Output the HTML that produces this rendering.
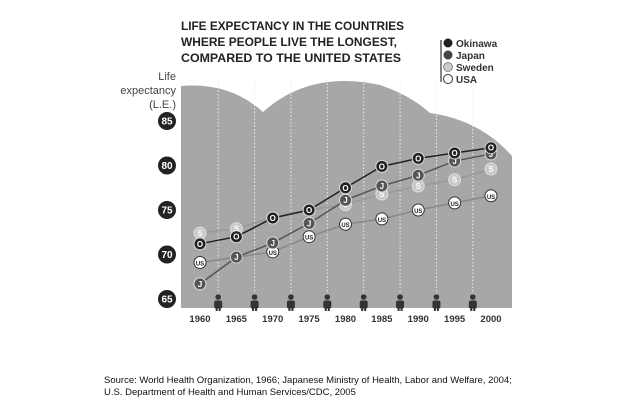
<!DOCTYPE html>
<html><head><meta charset="utf-8"><style>
body{margin:0;background:#fff;width:640px;height:410px;overflow:hidden;font-family:"Liberation Sans",sans-serif}
</style></head><body>
<svg id="chart" width="640" height="410" xmlns="http://www.w3.org/2000/svg" font-family="Liberation Sans, sans-serif">
<g font-size="12" font-weight="bold" fill="#222">
<text x="181" y="30" textLength="223" lengthAdjust="spacingAndGlyphs">LIFE EXPECTANCY IN THE COUNTRIES</text>
<text x="181" y="46" textLength="216" lengthAdjust="spacingAndGlyphs">WHERE PEOPLE LIVE THE LONGEST,</text>
<text x="181" y="62" textLength="220" lengthAdjust="spacingAndGlyphs">COMPARED TO THE UNITED STATES</text>
</g>
<g font-size="11" fill="#444" text-anchor="end">
<text x="176" y="80">Life</text><text x="176" y="94">expectancy</text><text x="176" y="108">(L.E.)</text>
</g>
<path fill="#a7a7a7" d="M181,86 Q230,82 263,112 Q310,70 380,85 Q410,95 430,113 Q480,120 512,156 L512,308 L181,308 Z"/>
<g id="grid"></g><g id="persons"></g><g id="yticks"></g><g id="xticks"></g><g id="series"></g>
<g font-size="10" font-weight="bold" fill="#333">
<line x1="441" y1="40" x2="441" y2="82" stroke="#333" stroke-width="1.2"/>
<circle cx="448" cy="43" r="4.5" fill="#222"/><text x="456" y="47">Okinawa</text>
<circle cx="448" cy="55" r="4.5" fill="#444"/><text x="456" y="59">Japan</text>
<circle cx="448" cy="67" r="4.5" fill="#ccc" stroke="#888"/><text x="456" y="71">Sweden</text>
<circle cx="448" cy="79" r="4.5" fill="#fff" stroke="#333"/><text x="456" y="83">USA</text>
</g>
<g font-size="9.5" fill="#111">
<text x="104" y="383">Source: World Health Organization, 1966; Japanese Ministry of Health, Labor and Welfare, 2004;</text>
<text x="104" y="395">U.S. Department of Health and Human Services/CDC, 2005</text>
</g>
</svg>
<script>
const years=[1960,1965,1970,1975,1980,1985,1990,1995,2000];
const okinawa=[71.2,72.0,74.1,75.0,77.5,79.9,80.8,81.4,82.0];
const japan=[66.7,69.7,71.3,73.5,76.1,77.7,78.9,80.5,81.3];
const sweden=[72.4,72.9,74.1,75.0,75.6,76.8,77.7,78.4,79.6];
const usa=[69.1,69.7,70.3,72.0,73.4,74.0,75.0,75.8,76.6];
const yTicks=[65,70,75,80,85];
const NS='http://www.w3.org/2000/svg';
const x=y=>200+(y-1960)*(291/40);
const yS=v=>299-(v-65)*8.9;
function mk(t,a,p){const e=document.createElementNS(NS,t);for(const k in a)e.setAttribute(k,a[k]);p.appendChild(e);return e;}
const grid=document.getElementById('grid'),persons=document.getElementById('persons');
for(let i=0;i<years.length-1;i++){
 const gx=(x(years[i])+x(years[i+1]))/2;
 const l=mk('line',{x1:gx,y1:80,x2:gx,y2:298,stroke:'#eee','stroke-width':1,'stroke-dasharray':'1.5,2'},grid);
 
 
 const g=mk('g',{fill:'#333'},persons);
 
 
 mk('circle',{cx:gx,cy:297,r:2.8},g);
 mk('rect',{x:gx-4,y:300.5,width:8,height:8,rx:2},g);
 mk('rect',{x:gx-2.5,y:306,width:2,height:5},g);mk('rect',{x:gx+0.5,y:306,width:2,height:5},g);
}
const yt=document.getElementById('yticks');
yTicks.forEach(v=>{const g=mk('g',{},yt);
 
 
 mk('circle',{cx:167,cy:yS(v),r:9,fill:'#222'},g);
 const t=mk('text',{x:167,y:yS(v)+3.5,'text-anchor':'middle','font-size':10,'font-weight':'bold',fill:'#fff'},g);t.textContent=v;});
const xt=document.getElementById('xticks');
years.forEach(v=>{const t=mk('text',{x:x(v),y:322,'text-anchor':'middle','font-size':9.5,'font-weight':'bold',fill:'#333'},xt);
 
 
 t.textContent=v;});
const sg=document.getElementById('series');
const defs=[['usa',usa,'#888','#fff','#222','US'],['sweden',sweden,'#999','#c8c8c8','#fff','S'],['japan',japan,'#555','#555','#fff','J'],['okinawa',okinawa,'#222','#222','#fff','O']];
defs.forEach(([n,d,lc,fc,tc,lab])=>{
 const g=mk('g',{},sg);
 
 
 mk('polyline',{points:d.map((v,i)=>x(years[i])+','+yS(v)).join(' '),fill:'none',stroke:lc,'stroke-width':1.5},g);
 d.forEach((v,i)=>{const p=mk('g',{},g);
  
  
  mk('circle',{cx:x(years[i]),cy:yS(v),r:6,fill:fc,stroke:n==='usa'?'#333':'#ddd','stroke-width':1},p);
  const t=mk('text',{x:x(years[i]),y:yS(v)+3,'text-anchor':'middle','font-size':lab==='US'?6:8,'font-weight':'bold',fill:tc},p);t.textContent=lab;});
});
</script>
</body></html>
